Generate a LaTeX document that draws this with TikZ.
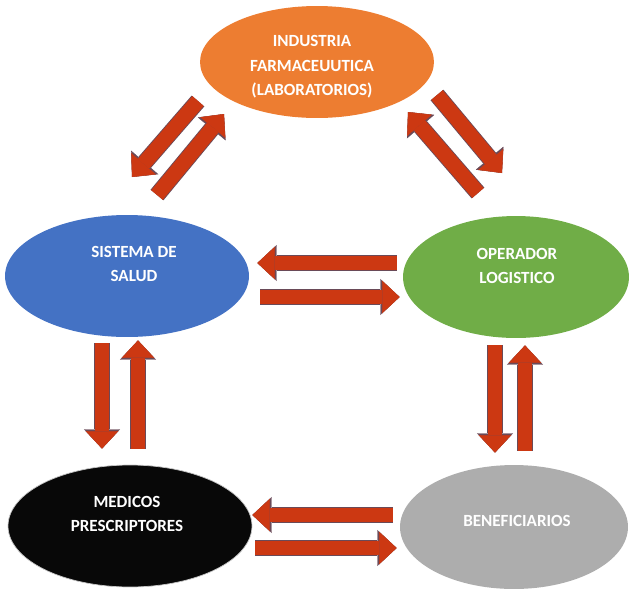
\documentclass[tikz,border=0pt]{standalone}
\usepackage{fontspec}
\newfontfamily\carlito{Carlito}
\usetikzlibrary{shapes.geometric, arrows.meta, positioning}
\definecolor{naranja}{HTML}{ED7D31}
\definecolor{azul}{HTML}{4472C4}
\definecolor{verde}{HTML}{70AD47}
\definecolor{negro}{HTML}{080808}
\definecolor{gris}{HTML}{ADADAD}
\definecolor{rojo}{HTML}{CC3812}
\definecolor{borde}{HTML}{6A4A58}
\tikzstyle{actor} = [ellipse, inner sep=0pt]
\tikzstyle{rotulo} = [text=white, align=center, font=\carlito\bfseries\fontsize{9.7}{14}\selectfont]
\tikzstyle{flecha} = [rojo, line width=8.5pt, -{Triangle[width=18.5pt,length=10pt,line width=0.2pt]}, preaction={draw=borde, line width=9.5pt, -{Triangle[width=20.5pt,length=11pt,line width=0.2pt]}}]

\begin{document}
\begin{tikzpicture}[x=0.02cm, y=-0.02cm]
        \useasboundingbox (0,0) rectangle (630,593);
        % Ellipses
        \node (industria) [actor, fill=naranja, minimum width=4.68cm, minimum height=2.24cm] at (317,62) {};
        \node (salud) [actor, fill=azul, minimum width=4.88cm, minimum height=2.44cm] at (127,276) {};
        \node (operador) [actor, fill=verde, minimum width=4.52cm, minimum height=2.44cm] at (516,277) {};
        \node (medicos) [actor, fill=negro, draw=gray!45, minimum width=4.88cm, minimum height=2.44cm] at (130,526) {};
        \node (beneficiarios) [actor, fill=gris, minimum width=4.56cm, minimum height=2.48cm] at (514,527) {};
        
        % Texts
        \node (t-industria) [rotulo] at ([shift={(-5,5)}]industria.center) {INDUSTRIA\\FARMACEUUTICA\\(LABORATORIOS)};
        \node (t-salud) [rotulo] at ([shift={(7,-12)}]salud.center) {SISTEMA DE\\SALUD};
        \node (t-operador) [rotulo] at ([shift={(1,-11)}]operador.center) {OPERADOR\\LOGISTICO};
        \node (t-medicos) [rotulo] at ([shift={(-3,-12)}]medicos.center) {MEDICOS\\PRESCRIPTORES};
        \node (t-beneficiarios) [rotulo] at ([shift={(3,-6)}]beneficiarios.center) {BENEFICIARIOS};
        
        % Arrows
        \draw [flecha] ([shift={(-119,39)}]industria.center) -- ([shift={(5,-99)}]salud.center);
        \draw [flecha] ([shift={(30,-81)}]salud.center) -- ([shift={(-93,52)}]industria.center);
        \draw [flecha] ([shift={(120,33)}]industria.center) -- ([shift={(-14,-104)}]operador.center);
        \draw [flecha] ([shift={(-38,-84)}]operador.center) -- ([shift={(91,50)}]industria.center);
        \draw [flecha] ([shift={(-6,-14)}]operador.west) -- ([shift={(8,-13)}]salud.east);
        \draw [flecha] ([shift={(11,21)}]salud.east) -- ([shift={(-3,20)}]operador.west);
        \draw [flecha] ([shift={(-25,6)}]salud.south) -- ([shift={(-28,-16)}]medicos.north);
        \draw [flecha] ([shift={(8,-16)}]medicos.north) -- ([shift={(11,3)}]salud.south);
        \draw [flecha] ([shift={(-21,7)}]operador.south) -- ([shift={(-19,-12)}]beneficiarios.north);
        \draw [flecha] ([shift={(11,-14)}]beneficiarios.north) -- ([shift={(9,7)}]operador.south);
        \draw [flecha] ([shift={(-7,-12)}]beneficiarios.west) -- ([shift={(0,-11)}]medicos.east);
        \draw [flecha] ([shift={(3,22)}]medicos.east) -- ([shift={(-3,21)}]beneficiarios.west);
    \end{tikzpicture}
\end{document}
